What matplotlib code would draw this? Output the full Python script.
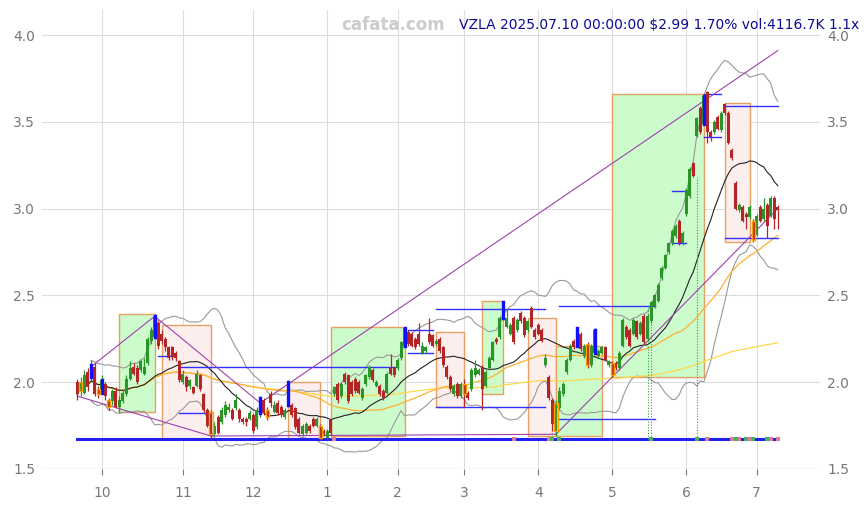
import numpy as np
import pandas as pd
import matplotlib
matplotlib.use("Agg")
import matplotlib.pyplot as plt
from matplotlib.patches import Rectangle

# ---------------- data ----------------
holidays = ["2024-11-28", "2024-12-25", "2025-01-01", "2025-01-09", "2025-01-20",
            "2025-02-17", "2025-04-18", "2025-05-26", "2025-06-19", "2025-07-04"]
dates = pd.bdate_range("2024-09-20", "2025-07-10")
dates = dates[~dates.isin(pd.to_datetime(holidays))]

opens = [2.00,1.95,1.94,2.06,2.03,2.09,1.96,1.94,1.99,1.90,1.89,1.95,1.86,1.89,1.93,2.02,2.09,2.08,2.07,2.05,
         2.11,2.24,2.26,2.34,2.28,2.25,2.20,2.20,2.17,2.12,2.00,2.03,1.98,1.97,1.98,2.04,1.93,1.84,1.83,1.70,
         1.80,1.77,1.81,1.84,1.84,1.85,1.84,1.79,1.79,1.79,1.81,1.74,1.82,1.90,1.84,1.93,1.83,1.88,1.86,1.80,
         1.87,1.87,1.85,1.79,1.70,1.71,1.75,1.79,1.75,1.75,1.72,1.68,1.78,1.93,1.99,1.92,2.05,2.04,2.00,2.02,
         2.00,1.91,1.99,2.03,2.07,1.98,1.98,1.95,1.94,2.09,2.08,2.08,2.14,2.21,2.29,2.28,2.25,2.28,2.17,2.18,
         2.28,2.27,2.22,2.25,2.20,2.09,2.03,1.93,1.99,1.92,1.99,1.94,1.96,2.04,2.05,2.09,1.98,2.08,2.13,2.25,
         2.26,2.37,2.32,2.28,2.37,2.30,2.40,2.37,2.30,2.43,2.30,2.33,2.30,2.10,2.03,1.90,1.72,1.85,1.93,2.06,
         2.13,2.24,2.21,2.28,2.15,2.22,2.10,2.17,2.15,2.17,2.20,2.10,2.11,2.11,2.08,2.21,2.32,2.30,2.28,2.35,
         2.28,2.38,2.25,2.35,2.44,2.47,2.60,2.66,2.75,2.80,2.84,2.93,2.80,2.97,3.07,3.26,3.42,3.58,3.49,3.67,
         3.44,3.44,3.53,3.45,3.60,3.55,3.34,3.15,2.99,3.01,2.97,2.95,2.93,2.85,3.01,2.94,3.02,2.96,3.06,3.01]
closes = [1.93,2.00,2.04,1.97,2.10,1.93,1.93,2.01,1.92,1.86,1.95,1.86,1.90,1.94,2.02,2.08,2.05,2.00,2.12,2.09,
          2.25,2.30,2.38,2.21,2.24,2.20,2.14,2.15,2.14,2.01,2.05,1.97,2.01,1.94,2.05,1.96,1.84,1.75,1.70,1.75,
          1.71,1.84,1.87,1.86,1.79,1.90,1.79,1.77,1.77,1.82,1.72,1.84,1.91,1.82,1.80,1.88,1.87,1.82,1.81,1.84,
          2.00,1.81,1.74,1.71,1.75,1.76,1.72,1.75,1.79,1.68,1.70,1.72,1.71,1.97,1.90,1.99,2.00,1.89,1.93,1.95,
          1.94,1.96,2.04,2.09,2.01,2.00,1.93,1.91,2.05,2.05,2.04,2.13,2.23,2.31,2.22,2.21,2.20,2.22,2.21,2.20,
          2.23,2.21,2.24,2.18,2.10,2.03,1.96,1.98,1.92,1.99,1.93,1.91,2.07,2.08,2.07,1.96,2.06,2.14,2.23,2.23,
          2.37,2.46,2.37,2.33,2.23,2.36,2.35,2.27,2.35,2.32,2.26,2.28,2.24,2.14,1.91,1.76,1.88,1.95,1.99,2.13,
          2.21,2.20,2.31,2.19,2.21,2.10,2.21,2.30,2.18,2.20,2.13,2.12,2.04,2.08,2.17,2.36,2.26,2.21,2.36,2.26,
          2.34,2.23,2.38,2.46,2.50,2.56,2.66,2.73,2.80,2.87,2.90,2.80,2.86,3.11,3.23,3.19,3.52,3.44,3.65,3.44,
          3.41,3.50,3.46,3.55,3.55,3.38,3.29,3.00,3.02,2.93,2.95,3.01,2.82,2.96,2.93,3.00,2.90,3.06,2.94,2.99]
highs = [2.02,2.03,2.07,2.08,2.13,2.11,1.98,2.04,2.00,1.91,1.96,1.97,1.92,1.96,2.04,2.12,2.11,2.10,2.13,2.14,
         2.26,2.32,2.39,2.36,2.30,2.26,2.21,2.21,2.18,2.13,2.07,2.04,2.02,1.98,2.07,2.05,1.94,1.85,1.84,1.77,
         1.81,1.86,1.89,1.88,1.85,1.93,1.85,1.80,1.80,1.84,1.82,1.86,1.92,1.91,1.86,1.95,1.89,1.90,1.87,1.85,
         2.01,1.88,1.86,1.80,1.76,1.77,1.76,1.80,1.80,1.76,1.73,1.73,1.79,1.98,2.00,2.00,2.06,2.05,2.01,2.03,
         2.01,1.97,2.05,2.10,2.08,2.01,1.99,1.96,2.06,2.16,2.09,2.14,2.24,2.32,2.30,2.29,2.26,2.34,2.23,2.21,
         2.37,2.28,2.25,2.26,2.21,2.10,2.04,1.99,2.00,2.00,2.02,1.95,2.08,2.13,2.08,2.10,2.07,2.15,2.24,2.26,
         2.38,2.47,2.42,2.34,2.38,2.37,2.41,2.38,2.36,2.44,2.31,2.34,2.31,2.16,2.04,1.91,1.90,1.97,2.00,2.14,
         2.22,2.25,2.32,2.29,2.22,2.23,2.22,2.31,2.19,2.21,2.21,2.13,2.12,2.12,2.18,2.37,2.33,2.31,2.37,2.36,
         2.35,2.39,2.39,2.47,2.51,2.57,2.67,2.74,2.81,2.88,2.91,2.94,2.87,3.12,3.24,3.27,3.53,3.59,3.66,3.68,
         3.45,3.51,3.54,3.56,3.61,3.56,3.35,3.16,3.03,3.02,2.98,3.02,2.94,2.97,3.02,3.06,3.03,3.07,3.07,3.02]
lows = [1.90,1.92,1.93,1.95,2.01,1.92,1.91,1.93,1.90,1.84,1.87,1.85,1.83,1.88,1.92,2.01,2.04,1.99,2.06,2.04,
        2.10,2.22,2.25,2.19,2.22,2.18,2.13,2.13,2.12,2.00,1.99,1.95,1.96,1.93,1.97,1.95,1.83,1.74,1.67,1.69,
        1.70,1.76,1.80,1.83,1.78,1.84,1.77,1.76,1.75,1.78,1.71,1.73,1.80,1.81,1.78,1.86,1.82,1.81,1.80,1.79,
        1.86,1.80,1.73,1.70,1.69,1.70,1.71,1.74,1.74,1.67,1.69,1.67,1.69,1.92,1.88,1.91,1.99,1.88,1.92,1.94,
        1.93,1.90,1.98,2.02,2.00,1.97,1.92,1.90,1.93,2.04,2.03,2.07,2.13,2.20,2.21,2.20,2.19,2.21,2.16,2.17,
        2.22,2.20,2.21,2.17,2.09,2.02,1.95,1.92,1.91,1.91,1.86,1.90,1.95,2.03,2.04,1.84,1.97,2.07,2.12,2.22,
        2.25,2.36,2.31,2.27,2.22,2.29,2.34,2.26,2.29,2.31,2.25,2.27,2.23,2.09,1.90,1.72,1.69,1.84,1.92,2.05,
        2.12,2.19,2.20,2.18,2.14,2.08,2.09,2.16,2.14,2.16,2.12,2.09,2.03,2.07,2.07,2.20,2.25,2.20,2.27,2.25,
        2.27,2.22,2.24,2.34,2.43,2.46,2.59,2.65,2.74,2.79,2.83,2.79,2.79,2.96,3.06,3.18,3.41,3.43,3.48,3.38,
        3.39,3.43,3.45,3.44,3.54,3.37,3.28,2.99,2.98,2.92,2.88,2.94,2.81,2.84,2.92,2.93,2.83,2.95,2.88,2.88]

blue_bars = [4, 7, 22, 52, 60, 93, 121, 142, 147, 178]
orange_bars = [1, 6, 9, 38, 54, 69, 110, 136, 145, 152, 192]

# zones: start bar, end bar, low, high, kind
zone_start = [12, 24, 60, 72, 102, 115, 128, 136, 152, 184]
zone_end = [22, 38, 69, 93, 110, 121, 136, 149, 178, 191]
zone_low = [1.83, 1.67, 1.67, 1.69, 1.86, 1.93, 1.69, 1.69, 2.03, 2.81]
zone_high = [2.39, 2.33, 2.00, 2.32, 2.29, 2.47, 2.37, 2.21, 3.66, 3.61]
zone_up = [True, False, False, True, False, True, False, True, True, False]

# purple trend lines: (bar0, price0, bar1, price1)
trend_b0 = [0, 38, 4, 22, 52, 136]
trend_p0 = [1.92, 1.69, 2.09, 2.38, 1.88, 1.70]
trend_b1 = [38, 136, 22, 52, 199, 199]
trend_p1 = [1.69, 1.70, 2.38, 1.88, 3.91, 3.00]

# blue level segments: (bar0, bar1, price)
lvl_b0 = [23, 29, 29, 94, 94, 102, 102, 137, 137, 169, 169, 178, 178, 184, 184]
lvl_b1 = [28, 91, 37, 101, 101, 133, 133, 164, 164, 173, 173, 183, 183, 199, 199]
lvl_p = [2.15, 2.09, 1.82, 2.30, 2.17, 2.42, 1.86, 2.44, 1.79, 3.10, 2.80, 3.66, 3.41, 3.59, 2.83]

base_level = 1.67
sig_red = [73, 124, 134, 179, 186, 188, 191, 197, 199]
sig_green = [135, 137, 163, 176, 187, 190, 192, 196]
dot_bars = [135, 162, 163, 176]
dot_top = [1.88, 2.43, 2.43, 3.18]
dot_col = ["#d08080", "#3aa04a", "#3aa04a", "#3aa04a"]

title = "VZLA 2025.07.10 00:00:00 $2.99 1.70% vol:4116.7K 1.1x"
watermark = "cafata.com"
yticks = [1.5, 2.0, 2.5, 3.0, 3.5, 4.0]

# ---------------- plot ----------------
fig = plt.figure(figsize=(8.68, 5.05), dpi=100)
ax = fig.add_axes([42/868, 1-469/505, (820-42)/868, (469-10)/505])

n = len(closes)
idx = np.arange(n)
o = np.array(opens); c = np.array(closes); h = np.array(highs); l = np.array(lows)
cs = pd.Series(c)

# zones
for s, e, lo, hi, up in zip(zone_start, zone_end, zone_low, zone_high, zone_up):
    fc = "#ccfccc" if up else "#fdeeee"
    ax.add_patch(Rectangle((s, lo), e - s, hi - lo, facecolor=fc, edgecolor="#e8a060",
                           lw=1.0, zorder=1))

# indicators
sma20 = cs.rolling(20, min_periods=1).mean()
sma50 = cs.rolling(50, min_periods=1).mean()
sma200 = cs.rolling(200, min_periods=1).mean()
sd20 = cs.rolling(20, min_periods=5).std(ddof=0)
ax.plot(idx, sma20 + 2 * sd20, color="#999999", lw=0.8, zorder=2)
ax.plot(idx, sma20 - 2 * sd20, color="#999999", lw=0.8, zorder=2)
ax.plot(idx, sma200, color="#ffd84a", lw=0.9, zorder=2)
ax.plot(idx, sma50, color="#ffb030", lw=0.9, zorder=2)
ax.plot(idx, sma20, color="#222222", lw=0.8, zorder=2)

# levels
for b0, b1, p in zip(lvl_b0, lvl_b1, lvl_p):
    ax.plot([b0, b1], [p, p], color="#3030ff", lw=1.0, zorder=3)

# trend lines
for b0, p0, b1, p1 in zip(trend_b0, trend_p0, trend_b1, trend_p1):
    ax.plot([b0, b1], [p0, p1], color="#a040b0", lw=0.8, zorder=3)

# base line
ax.plot([0, n - 1], [base_level, base_level], color="#2222ee", lw=2.2, zorder=3)

# dotted signal lines
for b, t, col in zip(dot_bars, dot_top, dot_col):
    ax.plot([b, b], [base_level, t], color=col, lw=0.8, ls=(0, (1, 1.5)), zorder=3)

# candles
up = c >= o
col = np.where(up, "#2a962a", "#b42626")
ax.vlines(idx, l, h, colors=col, lw=0.9, zorder=4)
body_lo = np.minimum(o, c); body_h = np.maximum(np.abs(c - o), 0.006)
ax.bar(idx, body_h, bottom=body_lo, width=0.85, color=col, linewidth=0, zorder=5)
for b in blue_bars:
    ax.plot([b, b], [min(o[b], c[b]), max(o[b], c[b])], color="#1010ff", lw=2.4, zorder=6)
for b in orange_bars:
    ax.add_patch(Rectangle((b - 0.45, min(o[b], c[b])), 0.9, abs(c[b] - o[b]),
                           facecolor="none", edgecolor="#ffa000", lw=1.0, zorder=6))

# signal markers
ax.scatter(sig_red, [base_level] * len(sig_red), marker="s", s=7, color="#d98098", zorder=7, linewidths=0)
ax.scatter(sig_green, [base_level] * len(sig_green), marker="s", s=7, color="#4caf60", zorder=7, linewidths=0)

# axes styling
ax.set_xlim(-10, 211)
ax.set_ylim(1.5, 4.0 + 25 / 173.6)
month_pos = [i for i in range(1, n) if dates[i].month != dates[i - 1].month]
ax.set_xticks(month_pos)
ax.set_xticklabels([str(dates[i].month) for i in month_pos])
ax.set_yticks(yticks)
ax.set_yticklabels([f"{v:.1f}" for v in yticks])
ax.tick_params(axis="x", colors="#777777", labelsize=10, length=4, width=0.8, pad=8)
ax.tick_params(axis="y", colors="#777777", labelsize=10, length=0, pad=5,
               left=True, right=True, labelleft=True, labelright=True)
for sp in ax.spines.values():
    sp.set_visible(False)
ax.grid(True, color="#dddddd", lw=0.8, zorder=0)
ax.set_axisbelow(True)
ax.axhline(1.5, color="#dddddd", lw=1.0, zorder=0)

fig.text(393 / 868, 1 - 25 / 505, watermark, color="#cccccc", fontsize=12, fontweight="bold",
         ha="center", va="center")
fig.text(459 / 868, 1 - 25 / 505, title, color="#0a0a96", fontsize=10, ha="left", va="center")

fig.savefig("out.png", dpi=100)
